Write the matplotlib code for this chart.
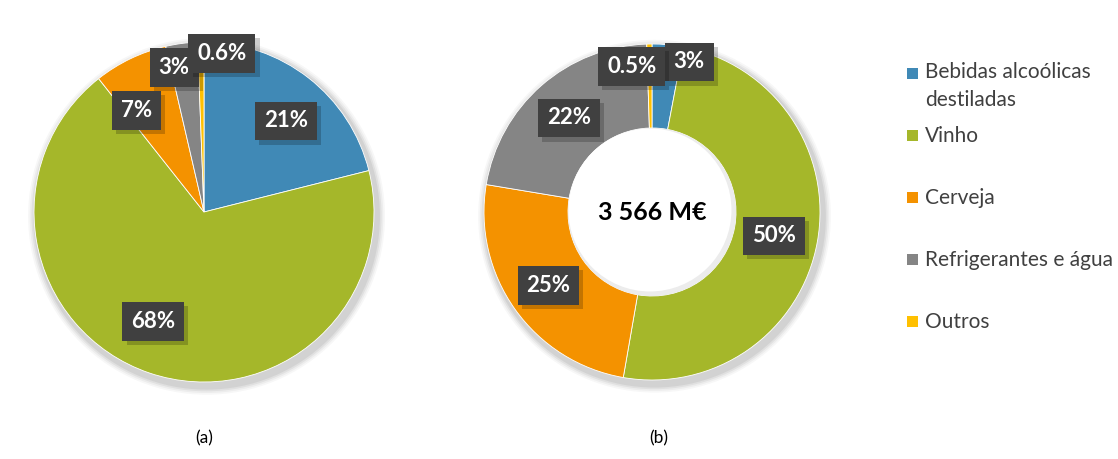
import matplotlib
matplotlib.use("Agg")
import matplotlib.pyplot as plt
import numpy as np
from matplotlib.patches import Circle, Rectangle
import matplotlib.patheffects as pe

categories = ["Bebidas alcoólicas\ndestiladas", "Vinho", "Cerveja", "Refrigerantes e água", "Outros"]
values_a = [21, 68, 7, 3, 0.6]
values_b = [3, 50, 25, 22, 0.5]
labels_a = ["21%", "68%", "7%", "3%", "0.6%"]
labels_b = ["3%", "50%", "25%", "22%", "0.5%"]
center_text = "3 566 M€"
captions = ["(a)", "(b)"]

colors = ["#4089B6", "#A5B72A", "#F49200", "#858585", "#FFC000"]
FONT = "Lato"

W, H = 1118, 459
fig = plt.figure(figsize=(W / 100, H / 100), dpi=100)
fig.patch.set_facecolor("white")
PAD = 1.15


def make_ax(cx, cy, r):
    ax = fig.add_axes([(cx - r * PAD) / W, (H - cy - r * PAD) / H, 2 * r * PAD / W, 2 * r * PAD / H])
    ax.axis("off")
    return ax


def fix_limits(ax):
    ax.set_xlim(-PAD, PAD)
    ax.set_ylim(-PAD, PAD)
    ax.set_aspect("equal")
    ax.axis("off")


def shadow(ax):
    for d, a in [(0.05, 0.03), (0.04, 0.04), (0.03, 0.05), (0.02, 0.06)]:
        ax.add_patch(Circle((0.015, -0.025), 1 + d, color="black", alpha=a, lw=0, zorder=0))


def label(ax, x, y, s):
    t = ax.text(x, y, s, fontsize=16, fontweight="bold", color="white", family=FONT,
                ha="center", va="center", zorder=5,
                bbox=dict(boxstyle="square,pad=0.4", fc="#404040", ec="none"))
    t.get_bbox_patch().set_path_effects([
        pe.SimplePatchShadow(offset=(3, -3), shadow_rgbFace="black", alpha=0.2), pe.Normal()])


def mid_angles(vals):
    tot = sum(vals)
    cum = np.cumsum([0] + list(vals))
    return [90 - (cum[i] + vals[i] / 2) / tot * 360 for i in range(len(vals))]


# pie (a)
ax1 = make_ax(204, 212, 170)
shadow(ax1)
ax1.pie(values_a, colors=colors, startangle=90, counterclock=False, radius=1,
        wedgeprops=dict(linewidth=0.6, edgecolor="white"))
fix_limits(ax1)
rad_a = [0.72, 0.71, 0.72, 0.87, 0.94]
dang_a = [-4, -6, 8, 4, -7.5]
for th, r, d, s in zip(mid_angles(values_a), rad_a, dang_a, labels_a):
    t = np.deg2rad(th + d)
    label(ax1, r * np.cos(t), r * np.sin(t), s)

# donut (b)
ax2 = make_ax(652, 212, 168)
shadow(ax2)
ax2.pie(values_b, colors=colors, startangle=90, counterclock=False, radius=1,
        wedgeprops=dict(width=0.5, linewidth=0.6, edgecolor="white"))
fix_limits(ax2)
ax2.add_patch(Circle((0, 0), 0.5, color="#ececec", lw=0, zorder=1))
ax2.add_patch(Circle((-0.012, 0.012), 0.485, color="white", lw=0, zorder=1))
rad_b = [0.92, 0.74, 0.756, 0.746, 0.876]
dang_b = [-8.5, -0.8, 0, 0.2, 7]
for th, r, d, s in zip(mid_angles(values_b), rad_b, dang_b, labels_b):
    t = np.deg2rad(th + d)
    label(ax2, r * np.cos(t), r * np.sin(t), s)
ax2.text(0, 0, center_text, fontsize=18, fontweight="bold", color="black", family=FONT,
         ha="center", va="center", zorder=6)

# captions
fig.text(204 / W, 1 - 438 / H, captions[0], fontsize=12.5, family=FONT, ha="center", va="center")
fig.text(659 / W, 1 - 438 / H, captions[1], fontsize=12.5, family=FONT, ha="center", va="center")

# legend
leg_y = [73, 135, 197, 259, 321]
for c, name, y in zip(colors, categories, leg_y):
    fig.patches.append(Rectangle((907 / W, 1 - (y + 5.5) / H), 11 / W, 11 / H,
                                 transform=fig.transFigure, fc=c, ec="none"))
    if "\n" in name:
        fig.text(925 / W, 1 - (y - 11) / H, name, fontsize=15, family=FONT, color="#404040",
                 ha="left", va="top", linespacing=1.5)
    else:
        fig.text(925 / W, 1 - (y + 1) / H, name, fontsize=15, family=FONT, color="#404040",
                 ha="left", va="center")

fig.savefig("out.png", dpi=100, facecolor="white")
